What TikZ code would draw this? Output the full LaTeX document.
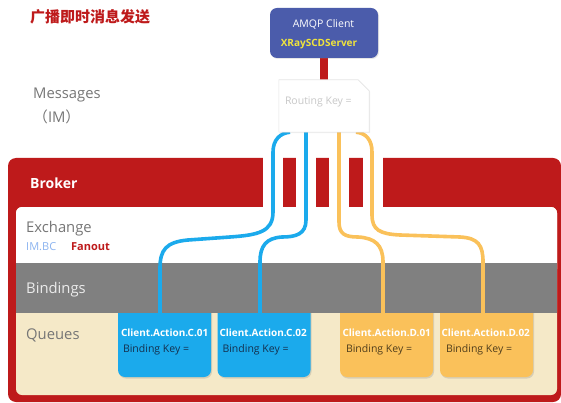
\documentclass[tikz,border=0pt]{standalone}
\usepackage{fontspec}
\setmainfont{Open Sans}
\newfontfamily\cjk{Noto Sans CJK SC}
\usetikzlibrary{calc,shadows}

\definecolor{brokerred}{RGB}{190,26,27}
\definecolor{amqpblue}{RGB}{75,92,171}
\definecolor{skyblue}{RGB}{27,170,236}
\definecolor{qorange}{RGB}{250,193,90}
\definecolor{bandgray}{RGB}{128,128,128}
\definecolor{beige}{RGB}{245,233,200}
\definecolor{labelgray}{RGB}{118,118,118}
\definecolor{serveryellow}{RGB}{240,228,60}
\definecolor{imblue}{RGB}{140,180,240}
\definecolor{keyblue}{RGB}{20,48,78}
\definecolor{keybrown}{RGB}{80,62,28}
\definecolor{rkgray}{RGB}{200,200,200}

\pgfdeclarelayer{panel}
\pgfdeclarelayer{wires}
\pgfsetlayers{panel,wires,main}

\begin{document}
\begin{tikzpicture}[x=1pt,y=-1pt,
  lbl/.style={font=\fontsize{14.8}{16}\selectfont, text=labelgray, inner sep=0pt, anchor=west},
  qbox/.style={rounded corners=7pt, minimum width=93pt, minimum height=77pt, inner sep=0pt,
    drop shadow={opacity=0.25, shadow xshift=1pt, shadow yshift=-1.5pt}},
  qtitle/.style={font=\bfseries\fontsize{10}{11}\selectfont, text=white, inner sep=0pt, anchor=west},
  qkey/.style={font=\fontsize{10.5}{12}\selectfont, inner sep=0pt, anchor=west},
  wire/.style={line width=3.6pt},
  bluewire/.style={wire, draw=skyblue},
  orangewire/.style={wire, draw=qorange}]
\useasboundingbox (0,0) rectangle (561,403);

% broker frame, exchange / bindings / queues panels, queue boxes
\begin{pgfonlayer}{panel}
  \fill[brokerred, rounded corners=8pt] (8,158) rectangle (561,402);
  \foreach \a in {263,296,329,363} \fill[white] (\a,156) rectangle (\a+20,208);
  \fill[beige, rounded corners=6pt] (16,207) rectangle (557,395);
  \fill[white, rounded corners=6pt] (16,207) rectangle (557,275);
  \node[qbox, fill=skyblue] (q1) at (164.5,338.5) {};
  \node[qbox, fill=skyblue] (q2) at (264,338.5) {};
  \node[qbox, fill=qorange] (q3) at (386.5,338.5) {};
  \node[qbox, fill=qorange] (q4) at (486.5,338.5) {};
  \fill[bandgray] (16,263) rectangle (557,313);
\end{pgfonlayer}

% client and routing key
\node[fill=amqpblue, rounded corners=7pt, minimum width=108pt, minimum height=50pt, inner sep=0pt,
  drop shadow={opacity=0.2, shadow xshift=1pt, shadow yshift=-1pt}] (amqp) at (324,33) {};
\node[font=\fontsize{10.5}{12}\selectfont, text=white, inner sep=0pt] at ($(amqp.center)+(-0.5,-9)$) {AMQP Client};
\node[font=\bfseries\fontsize{10}{12}\selectfont, text=serveryellow, inner sep=0pt] at ($(amqp.center)+(-5,11)$) {XRaySCDServer};

\node[minimum width=90pt, minimum height=52pt, inner sep=0pt] (rk) at (324,106) {};
\filldraw[fill=white, draw=black!10, line width=0.6pt,
  drop shadow={opacity=0.12, shadow xshift=1pt, shadow yshift=-1pt}]
  (rk.south west) -- (rk.north west) -- ($(rk.north east)+(-11,0)$)
  -- ($(rk.north east)+(0,11)$) -- (rk.south east) -- cycle;
\node[font=\fontsize{10.5}{12}\selectfont, text=rkgray, inner sep=0pt, anchor=west] at ($(rk.west)+(6,-4)$) {Routing Key =};

% connectors
\begin{pgfonlayer}{wires}
  \draw[line width=8pt, brokerred] (amqp.south) -- (rk.north);
  \draw[bluewire] ($(rk.south)+(-34,0)$) .. controls (280,133) and (273,140) .. (273,152)
    -- (273,212) .. controls (273,232) and (258,235) .. (230,237) -- (188,240)
    .. controls (166,242) and (160,250) .. (160,268) -- ($(q1.north)+(-4.5,14)$);
  \draw[bluewire] ($(rk.south)+(-18,0)$) -- (306,220)
    .. controls (306,234) and (296,237) .. (282,237)
    .. controls (266,238) and (260,246) .. (260,262) -- ($(q2.north)+(-4,14)$);
  \draw[orangewire] ($(rk.south)+(15,0)$) -- (339,222)
    .. controls (339,234) and (345,237) .. (358,237)
    .. controls (375,238) and (383,245) .. (383,262) -- ($(q3.north)+(-3.5,14)$);
  \draw[orangewire] ($(rk.south)+(32,0)$) .. controls (366,133) and (372,140) .. (372,152)
    -- (372,215) .. controls (372,230) and (380,234) .. (400,235) -- (460,237)
    .. controls (478,238) and (483,245) .. (483,262) -- ($(q4.north)+(-3.5,14)$);
\end{pgfonlayer}

% queue texts
\node[qtitle] at ($(q1.west)+(3,-5.5)$) {Client.Action.C.01};
\node[qkey, text=keyblue] at ($(q1.west)+(5,11.5)$) {Binding Key =};
\node[qtitle] at ($(q2.west)+(2,-5.5)$) {Client.Action.C.02};
\node[qkey, text=keyblue] at ($(q2.west)+(5,11.5)$) {Binding Key =};
\node[qtitle] at ($(q3.west)+(2.5,-5.5)$) {Client.Action.D.01};
\node[qkey, text=keybrown] at ($(q3.west)+(6,11.5)$) {Binding Key =};
\node[qtitle] at ($(q4.west)+(1.5,-5.5)$) {Client.Action.D.02};
\node[qkey, text=keybrown] at ($(q4.west)+(6,11.5)$) {Binding Key =};

% labels
\node[font=\cjk\bfseries\fontsize{15}{17}\selectfont, text=brokerred, inner sep=0pt, anchor=west] (title) at (30,17) {广播即时消息发送};
\node[lbl] (msg) at (33,95) {Messages};
\node[lbl] (im) at (33,117) {{\cjk （}IM{\cjk ）}};
\node[lbl, text=white, font=\bfseries\fontsize{14}{16}\selectfont] (broker) at (30,183) {Broker};
\node[lbl] (exch) at (26,229) {Exchange};
\node[inner sep=0pt, anchor=west, text=imblue, font=\fontsize{11}{13}\selectfont] (imbc) at (26,247) {IM.BC};
\node[inner sep=0pt, anchor=west, text=brokerred, font=\bfseries\fontsize{11}{13}\selectfont] (fanout) at (71,247) {Fanout};
\node[lbl, text=black!8] (bind) at (26,290) {Bindings};
\node[lbl] (queues) at (26,335) {Queues};
\end{tikzpicture}
\end{document}
